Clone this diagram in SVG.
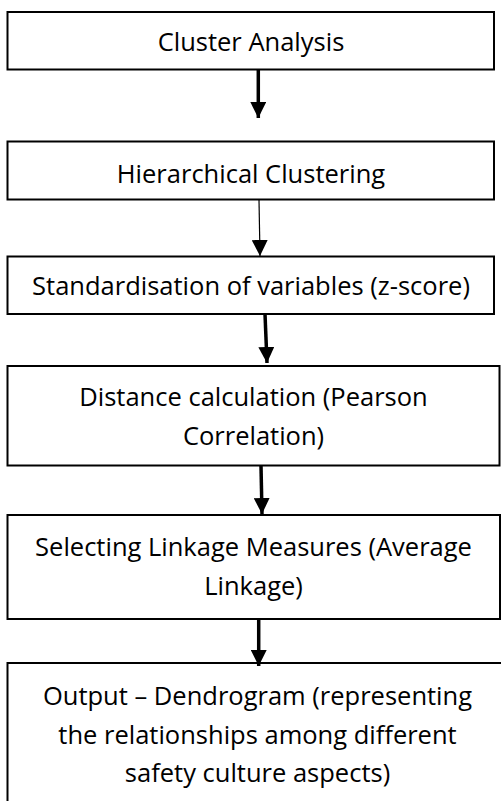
<svg xmlns="http://www.w3.org/2000/svg" width="501" height="801" viewBox="0 0 501 801">
  <defs>
    <style>
      .box { fill: #ffffff; stroke: #000000; stroke-width: 2; }
      .label { font-family: "Open Sans", Lato, "Liberation Sans", sans-serif; font-size: 25.5px; fill: #000000; text-anchor: middle; }
      .edge { stroke: #000000; fill: none; }
      .thick { stroke-width: 3.5; }
      .thin { stroke-width: 1.2; }
    </style>
    <marker id="head" markerUnits="userSpaceOnUse" viewBox="0 0 16 16" markerWidth="16" markerHeight="16" refX="16" refY="8" orient="auto">
      <path d="M0,0 L16,8 L0,16 Z" fill="#000000"/>
    </marker>
  </defs>

  <rect width="501" height="801" fill="#ffffff"/>

  <!-- process steps -->
  <g id="cluster-analysis">
    <rect class="box" x="7.5" y="12" width="486.5" height="57.5"/>
    <text class="label" x="251" y="51">Cluster Analysis</text>
  </g>

  <g id="hierarchical-clustering">
    <rect class="box" x="7.5" y="141.5" width="486.5" height="58"/>
    <text class="label" x="251" y="182.5">Hierarchical Clustering</text>
  </g>

  <g id="standardisation">
    <rect class="box" x="7.5" y="256.5" width="486.5" height="57.5"/>
    <text class="label" x="251" y="294.5">Standardisation of variables (z-score)</text>
  </g>

  <g id="distance-calculation">
    <rect class="box" x="7.5" y="366" width="492" height="99.5"/>
    <text class="label" x="253.5" y="406">Distance calculation (Pearson</text>
    <text class="label" x="253.5" y="444.5">Correlation)</text>
  </g>

  <g id="linkage-measures">
    <rect class="box" x="7.5" y="515" width="492.5" height="104"/>
    <text class="label" x="253.5" y="556">Selecting Linkage Measures (Average</text>
    <text class="label" x="253.5" y="595">Linkage)</text>
  </g>

  <g id="dendrogram-output">
    <rect class="box" x="7.5" y="663" width="500" height="150"/>
    <text class="label" x="257.5" y="705">Output – Dendrogram (representing</text>
    <text class="label" x="257.5" y="743.5">the relationships among different</text>
    <text class="label" x="257.5" y="782">safety culture aspects)</text>
  </g>

  <!-- connectors -->
  <g id="connectors">
    <path class="edge thick" d="M258.3,70 L258.3,118" marker-end="url(#head)"/>
    <path class="edge thin" d="M259,200 L260,256" marker-end="url(#head)"/>
    <path class="edge thick" d="M265,314 L267,363" marker-end="url(#head)"/>
    <path class="edge thick" d="M261,466 L262,514" marker-end="url(#head)"/>
    <path class="edge thick" d="M258.7,619.5 L258.7,666" marker-end="url(#head)"/>
  </g>
</svg>
